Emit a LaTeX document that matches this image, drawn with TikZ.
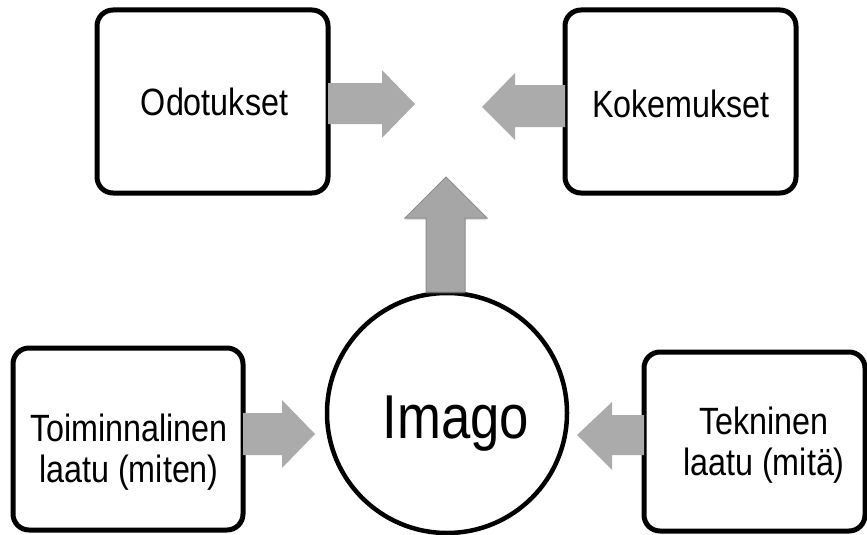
\documentclass[tikz,border=0pt]{standalone}
\usepackage{fontspec}
\setmainfont{Liberation Sans}[FakeStretch=0.85]
\usetikzlibrary{shadows}
\begin{document}
\begin{tikzpicture}[x=1pt,y=-1pt,
  box/.style={draw=black,line width=5pt,rounded corners=16pt,fill=white},
  lbl/.style={font=\fontsize{38}{41}\selectfont,align=center,inner sep=0pt},
  flatarrow/.style={fill=black!33,draw=none},
  uparrow/.style={fill=black!35,draw=black!45,line width=1pt,
    drop shadow={opacity=0.25,shadow xshift=0pt,shadow yshift=-2pt}}]
\useasboundingbox (0,0) rectangle (867,535);
% boxes
\draw[box] (97,10) rectangle (328,193);
\draw[box] (565,10) rectangle (796,193);
\draw[box] (13,348) rectangle (243,530);
\draw[box] (644,352) rectangle (865,531);
\node[lbl,anchor=base] (odot) at (214.5,115) {Odotukset};
\node[lbl,anchor=base] (koke) at (681,117) {Kokemukset};
\node[lbl] (toim) at (129,452) {Toiminnalinen\\laatu (miten)};
\node[lbl] (tekn) at (764,445) {Tekninen\\laatu (mitä)};
% circle
\node[circle,draw=black,line width=4.5pt,fill=white,minimum size=240pt,inner sep=0pt] (imago) at (447,413) {};
\node[inner sep=0pt,anchor=base,font=\fontsize{62}{62}\selectfont] (imagot) at (456,438) {Imago};
% arrows
\fill[flatarrow] (328,83) -- (382,83) -- (382,70) -- (415,104) -- (382,138) -- (382,124) -- (328,124) -- cycle;
\fill[flatarrow] (565,85) -- (515,85) -- (515,73) -- (482,107) -- (515,140) -- (515,127) -- (565,127) -- cycle;
\fill[flatarrow] (243,413) -- (282,413) -- (282,400) -- (315,434) -- (282,468) -- (282,455) -- (243,455) -- cycle;
\fill[flatarrow] (644,415) -- (612,415) -- (612,402) -- (577,435) -- (612,470) -- (612,455) -- (644,455) -- cycle;
\filldraw[uparrow] (426,292) -- (426,218) -- (405,218) -- (446,177) -- (487,218) -- (465,218) -- (465,292) -- cycle;
\end{tikzpicture}
\end{document}
